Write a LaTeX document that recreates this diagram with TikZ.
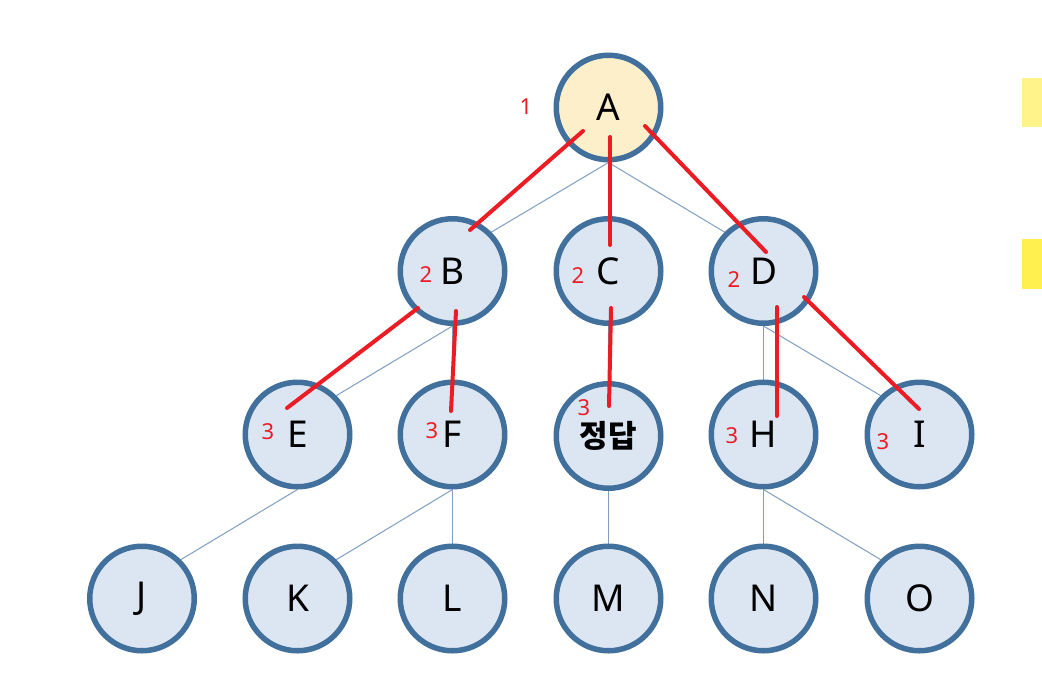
\documentclass[tikz,border=0pt]{standalone}
\usepackage{fontspec}
\setmainfont{Noto Sans}
\newfontfamily\krfont{Noto Sans CJK KR}
\usetikzlibrary{backgrounds}
\definecolor{nodeblue}{HTML}{41709C}
\definecolor{nodefill}{HTML}{DCE6F3}
\definecolor{rootfill}{HTML}{FDEFC9}
\definecolor{thinblue}{HTML}{7F9FC2}
\definecolor{redmark}{HTML}{EC1C24}
\definecolor{yellowA}{HTML}{FFF38A}
\definecolor{yellowB}{HTML}{FFF050}
\tikzset{
  treenode/.style={circle, draw=nodeblue, fill=nodefill, line width=5.5pt,
    minimum size=104.5pt, inner sep=0pt, font=\fontsize{37}{42}\selectfont},
  rootnode/.style={treenode, fill=rootfill},
  treeedge/.style={draw=thinblue, line width=1pt},
  redline/.style={draw=redmark, line width=4pt, line cap=round},
  rednum/.style={text=redmark, font=\fontsize{22}{26}\selectfont, inner sep=0pt}
}
\begin{document}
\begin{tikzpicture}[x=1pt,y=-1pt]
\useasboundingbox (0,0) rectangle (1042,673);
% yellow bars at right edge
\fill[yellowA] (1022,78) rectangle (1042,127);
\fill[yellowB] (1022,239) rectangle (1042,289);
% nodes
\node[rootnode] (A) at (608.5,107.5) {A};
\node[treenode] (B) at (452.5,271) {B};
\node[treenode] (C) at (608.5,271) {C};
\node[treenode] (D) at (763.5,271) {D};
\node[treenode] (E) at (297.5,434.5) {E};
\node[treenode] (F) at (452.5,434.5) {F};
\node[treenode] (G) at (608.5,436) {\krfont\bfseries\fontsize{31}{35}\selectfont 정답};
\node[treenode] (H) at (763.5,434.5) {H};
\node[treenode] (I) at (919.5,434.5) {I};
\node[treenode] (J) at (142,598.5) {J};
\node[treenode] (K) at (297.5,598.5) {K};
\node[treenode] (L) at (452.5,598.5) {L};
\node[treenode] (M) at (608.5,598.5) {M};
\node[treenode] (N) at (763.5,598.5) {N};
\node[treenode] (O) at (919.5,598.5) {O};
% thin tree connectors behind the nodes
\begin{pgfonlayer}{background}
\fill[white] (0,0) rectangle (1042,673);
\draw[treeedge] (A.south) -- (B.north east);
\draw[treeedge] (A.south) -- (C.north);
\draw[treeedge] (A.south) -- (D.north west);
\draw[treeedge] (B.south) -- (E.north east);
\draw[treeedge] (B.south) -- (F.north);
\draw[treeedge] (C.south) -- (G.north);
\draw[treeedge] (D.south) -- (H.north);
\draw[treeedge] (D.south) -- (I.north west);
\draw[treeedge] (E.south) -- (J.north east);
\draw[treeedge] (F.south) -- (K.north east);
\draw[treeedge] (F.south) -- (L.north);
\draw[treeedge] (G.south) -- (M.north);
\draw[treeedge] (H.south) -- (N.north);
\draw[treeedge] (H.south) -- (O.north west);
\end{pgfonlayer}
% red hand-drawn marks
\coordinate (rAB1) at (583,131);  \coordinate (rAB2) at (470,230);
\coordinate (rAC1) at (610,137);  \coordinate (rAC2) at (610,245);
\coordinate (rAD1) at (645,126);  \coordinate (rAD2) at (766,252);
\coordinate (rBE1) at (418,308);  \coordinate (rBE2) at (287,408);
\coordinate (rBF1) at (456,311);  \coordinate (rBF2) at (451,411);
\coordinate (rCG1) at (611,308);  \coordinate (rCG2) at (609,406);
\coordinate (rDH1) at (777,307);  \coordinate (rDH2) at (777,416);
\coordinate (rDI1) at (804,297);  \coordinate (rDI2) at (919,409);
\draw[redline] (rAB1) -- (rAB2);
\draw[redline] (rAC1) -- (rAC2);
\draw[redline] (rAD1) -- (rAD2);
\draw[redline] (rBE1) -- (rBE2);
\draw[redline] (rBF1) -- (rBF2);
\draw[redline] (rCG1) -- (rCG2);
\draw[redline] (rDH1) -- (rDH2);
\draw[redline] (rDI1) -- (rDI2);
% red level numbers
\node[rednum] (n1) at (526,107) {1};
\node[rednum] (n2b) at (426,275) {2};
\node[rednum] (n2c) at (578,276) {2};
\node[rednum] (n2d) at (734,280) {2};
\node[rednum] (n3e) at (268,432) {3};
\node[rednum] (n3f) at (432,431) {3};
\node[rednum] (n3g) at (584,408) {3};
\node[rednum] (n3h) at (732,436) {3};
\node[rednum] (n3i) at (883,442) {3};
\end{tikzpicture}
\end{document}
